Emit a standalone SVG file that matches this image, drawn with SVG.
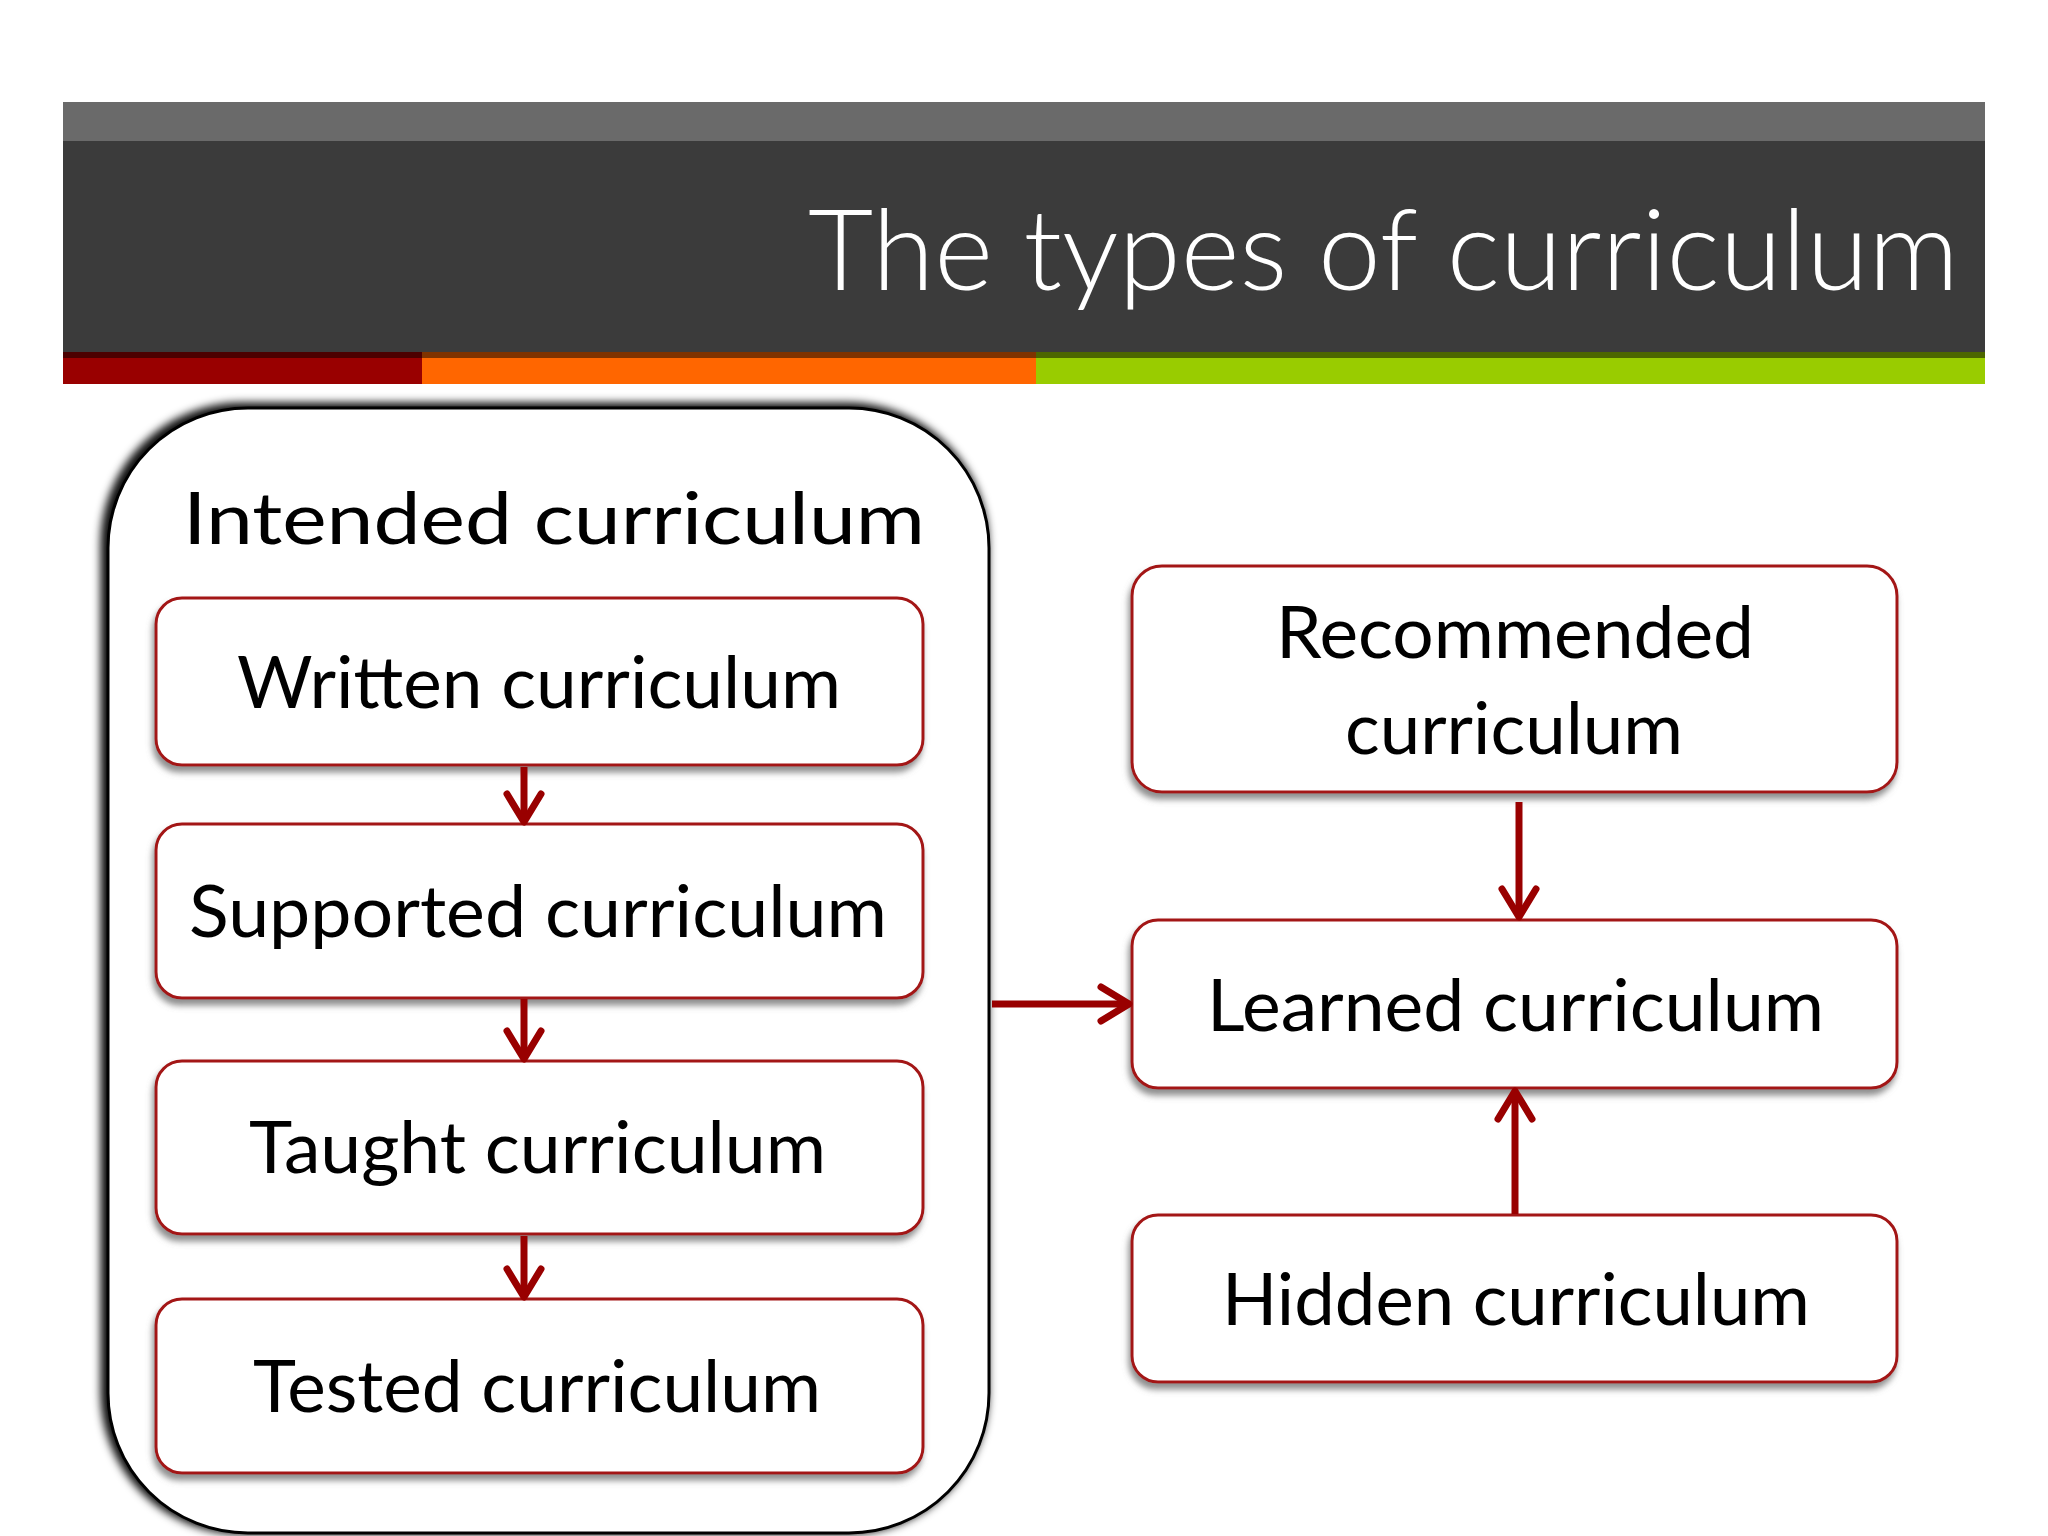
<svg xmlns="http://www.w3.org/2000/svg" width="2048" height="1536" viewBox="0 0 2048 1536">
<style>
.box{fill:#ffffff;stroke:#a31515;stroke-width:3}
.lbl{font-family:Lato,"Open Sans","Liberation Sans",sans-serif;font-size:72px;fill:#000000}
.conn{stroke:#990000;stroke-width:7;fill:none}
</style>
<defs>
<filter id="sh" x="-10%" y="-20%" width="120%" height="150%">
<feGaussianBlur in="SourceAlpha" stdDeviation="3"/>
<feOffset dx="-2" dy="6" result="b"/>
<feFlood flood-color="#7a7a7a" flood-opacity="0.85"/>
<feComposite in2="b" operator="in"/>
<feMerge><feMergeNode/><feMergeNode in="SourceGraphic"/></feMerge>
</filter>
<filter id="osh" x="-10%" y="-10%" width="120%" height="120%">
<feMorphology in="SourceAlpha" operator="dilate" radius="2"/>
<feGaussianBlur stdDeviation="4"/>
<feOffset dx="-4" dy="-2" result="b"/>
<feFlood flood-color="#000000" flood-opacity="0.95"/>
<feComposite in2="b" operator="in"/>
<feMerge><feMergeNode/><feMergeNode in="SourceGraphic"/></feMerge>
</filter>
<marker id="arr" viewBox="0 0 44 44" markerWidth="44" markerHeight="44" refX="36" refY="22" orient="auto" markerUnits="userSpaceOnUse">
<path d="M8,5 L36,22 L8,39" fill="none" stroke="#990000" stroke-width="7" stroke-linecap="round" stroke-linejoin="round"/>
</marker>
</defs>
<rect x="0" y="0" width="2048" height="1536" fill="#ffffff"/>
<g id="header">
<rect x="63" y="102" width="1922" height="40" fill="#6a6a6a"/>
<rect x="63" y="141" width="1922" height="212" fill="#3b3b3b"/>
<rect x="63" y="352" width="359" height="32" fill="#990000"/>
<rect x="422" y="352" width="614" height="32" fill="#ff6600"/>
<rect x="1036" y="352" width="949" height="32" fill="#99cc00"/>
<rect x="63" y="352" width="1922" height="6" fill="#000000" opacity="0.5"/>
<text x="808" y="290" font-family="Lato,'Open Sans','Liberation Sans',sans-serif" font-weight="300" font-size="112" fill="#ffffff" textLength="1151" lengthAdjust="spacingAndGlyphs">The types of curriculum</text>
</g>
<g id="intended">
<rect x="108" y="408" width="881" height="1125" rx="140" ry="140" fill="#ffffff" stroke="#000000" stroke-width="3" filter="url(#osh)"/>
<text class="lbl" x="183" y="544" font-size="80" textLength="742" lengthAdjust="spacingAndGlyphs">Intended curriculum</text>
</g>
<g id="written">
<rect class="box" x="156" y="598" width="767" height="167" rx="26" filter="url(#sh)"/>
<text class="lbl" x="237" y="708" textLength="604" lengthAdjust="spacingAndGlyphs">Written curriculum</text>
</g>
<g id="supported">
<rect class="box" x="156" y="824" width="767" height="174" rx="26" filter="url(#sh)"/>
<text class="lbl" x="189" y="937" textLength="698" lengthAdjust="spacingAndGlyphs">Supported curriculum</text>
</g>
<g id="taught">
<rect class="box" x="156" y="1061" width="767" height="173" rx="26" filter="url(#sh)"/>
<text class="lbl" x="249" y="1173" textLength="577" lengthAdjust="spacingAndGlyphs">Taught curriculum</text>
</g>
<g id="tested">
<rect class="box" x="156" y="1299" width="767" height="174" rx="26" filter="url(#sh)"/>
<text class="lbl" x="253" y="1412" textLength="568" lengthAdjust="spacingAndGlyphs">Tested curriculum</text>
</g>
<g id="recommended">
<rect class="box" x="1132" y="566" width="765" height="226" rx="30" filter="url(#sh)"/>
<text class="lbl" x="1276" y="658" textLength="478" lengthAdjust="spacingAndGlyphs">Recommended</text>
<text class="lbl" x="1345" y="754" textLength="338" lengthAdjust="spacingAndGlyphs">curriculum</text>
</g>
<g id="learned">
<rect class="box" x="1132" y="920" width="765" height="168" rx="26" filter="url(#sh)"/>
<text class="lbl" x="1207" y="1031" textLength="617" lengthAdjust="spacingAndGlyphs">Learned curriculum</text>
</g>
<g id="hidden">
<rect class="box" x="1132" y="1215" width="765" height="167" rx="26" filter="url(#sh)"/>
<text class="lbl" x="1222" y="1325" textLength="588" lengthAdjust="spacingAndGlyphs">Hidden curriculum</text>
</g>
<g id="connectors">
<line class="conn" x1="524" y1="767" x2="524" y2="822" marker-end="url(#arr)"/>
<line class="conn" x1="524" y1="999" x2="524" y2="1059" marker-end="url(#arr)"/>
<line class="conn" x1="524" y1="1236" x2="524" y2="1297" marker-end="url(#arr)"/>
<line class="conn" x1="992" y1="1004" x2="1129" y2="1004" marker-end="url(#arr)"/>
<line class="conn" x1="1519" y1="802" x2="1519" y2="917" marker-end="url(#arr)"/>
<line class="conn" x1="1515" y1="1214" x2="1515" y2="1091" marker-end="url(#arr)"/>
</g>
</svg>
